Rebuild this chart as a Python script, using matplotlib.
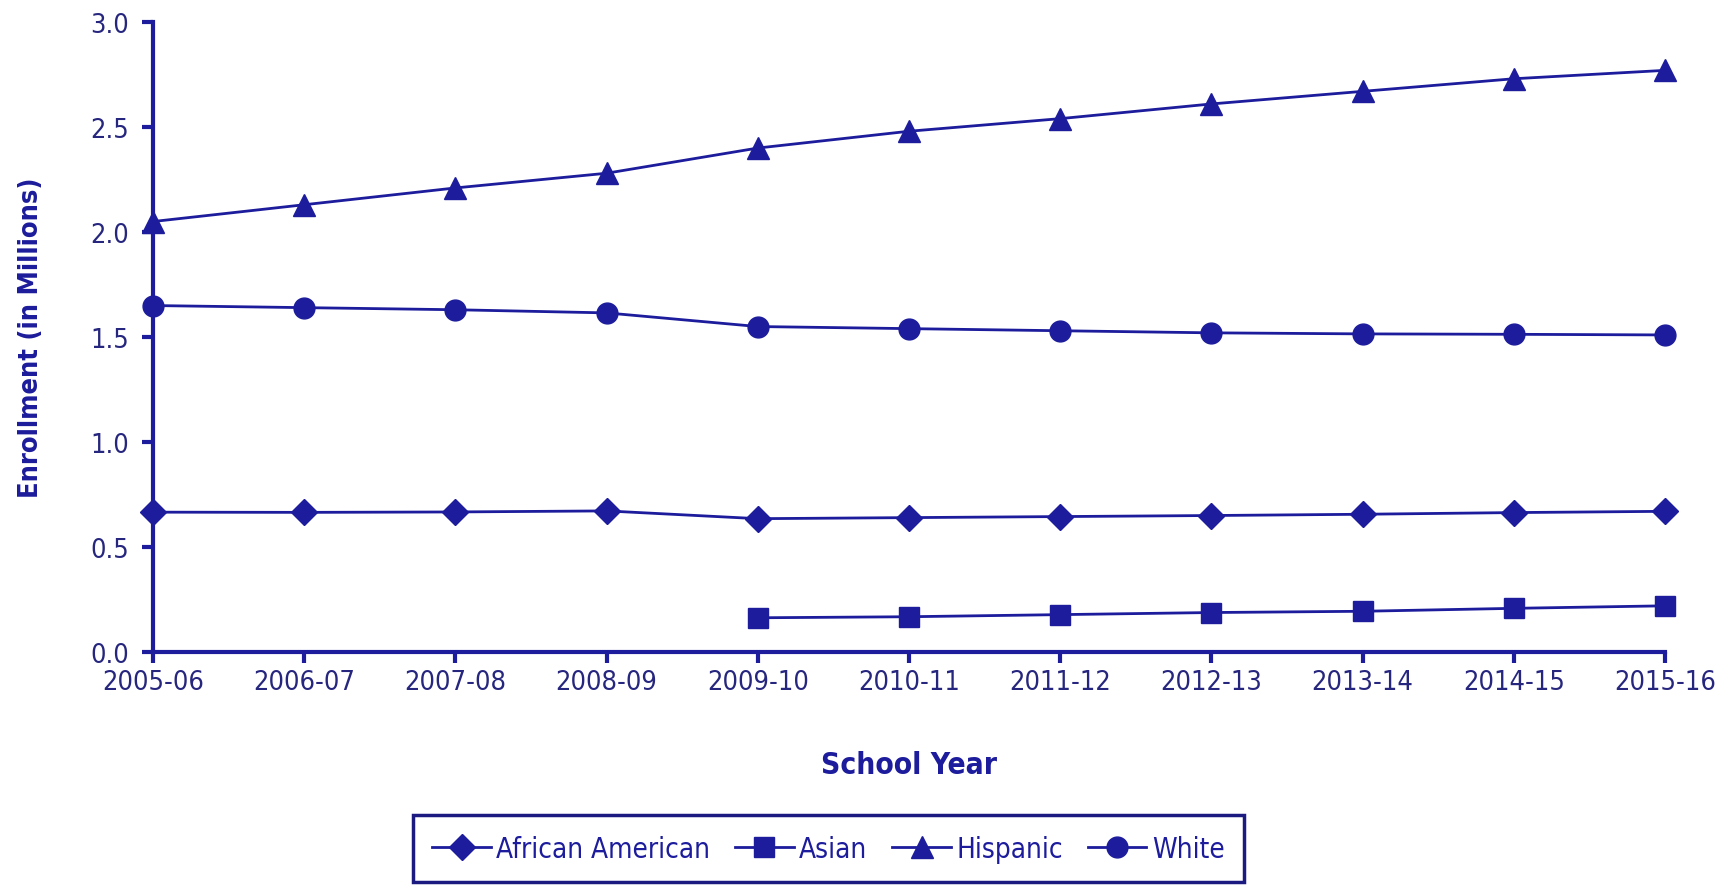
import matplotlib
matplotlib.use('Agg')
import matplotlib.pyplot as plt
from matplotlib import font_manager
import numpy as np

# Data (millions)
years = ['2005-06', '2006-07', '2007-08', '2008-09', '2009-10', '2010-11',
         '2011-12', '2012-13', '2013-14', '2014-15', '2015-16']
african_american = [0.666, 0.665, 0.667, 0.672, 0.635, 0.640, 0.645, 0.650, 0.656, 0.664, 0.670]
asian = [None, None, None, None, 0.163, 0.168, 0.178, 0.188, 0.194, 0.208, 0.220]
hispanic = [2.05, 2.13, 2.21, 2.28, 2.40, 2.48, 2.54, 2.61, 2.67, 2.73, 2.77]
white = [1.65, 1.64, 1.63, 1.615, 1.55, 1.54, 1.53, 1.52, 1.515, 1.513, 1.51]


# procurando uma fonte estreita (narrow/condensed) instalada
def achar_fonte(negrito=False):
    candidatos = []
    for f in font_manager.fontManager.ttflist:
        nome = f.fname.lower()
        if ('narrow' in nome or 'condensed' in nome) and 'oblique' not in nome and 'italic' not in nome:
            eh_bold = 'bold' in nome
            if eh_bold == negrito:
                candidatos.append(f.fname)
    candidatos.sort(key=lambda n: (0 if 'liberation' in n.lower() else 1 if 'dejavusans' in n.lower() else 2, n))
    if candidatos:
        return font_manager.FontProperties(fname=candidatos[0])
    return font_manager.FontProperties(family='Liberation Sans', weight='bold' if negrito else 'normal')


fp_reg = achar_fonte(False)
fp_bold = achar_fonte(True)

cor = '#1c1c9c'
cor_texto = '#26267e'

fig = plt.figure(figsize=(17.26, 8.87), dpi=100)
ax = fig.add_axes([0.0886, 0.2638, 0.876, 0.7102])

x = np.arange(len(years))
asian_arr = np.array([np.nan if v is None else v for v in asian])

series = [
    ('African American', african_american, 'D', 13),
    ('Asian', asian_arr, 's', 14),
    ('Hispanic', hispanic, '^', 16),
    ('White', white, 'o', 15),
]
for nome, valores, marcador, tam in series:
    ax.plot(x, valores, color=cor, linewidth=2, marker=marcador, markersize=tam,
            markerfacecolor=cor, markeredgecolor=cor, label=nome, clip_on=False, zorder=3)

ax.set_xlim(0, 10)
ax.set_ylim(0, 3.0)
yt = np.arange(0, 3.01, 0.5)
ax.set_yticks(yt)
ax.set_yticklabels([f'{v:.1f}' for v in yt])
ax.set_xticks(x)
ax.set_xticklabels(years)

for lado in ['top', 'right']:
    ax.spines[lado].set_visible(False)
for lado in ['left', 'bottom']:
    ax.spines[lado].set_color(cor)
    ax.spines[lado].set_linewidth(3)

ax.tick_params(axis='both', direction='out', length=8, width=3, color=cor,
               labelcolor=cor_texto)
ax.tick_params(axis='x', pad=4)
ax.tick_params(axis='y', pad=9)
for lbl in ax.get_xticklabels() + ax.get_yticklabels():
    lbl.set_fontproperties(fp_reg)
    lbl.set_fontsize(19.5)

ax.set_xlabel('School Year', fontproperties=fp_bold, fontsize=21.5, color=cor, labelpad=40)
ax.set_ylabel('Enrollment (in Millions)', fontproperties=fp_bold, fontsize=19.5, color=cor)
ax.yaxis.set_label_coords(-0.072, 0.5)

prop_leg = fp_reg.copy()
prop_leg.set_size(20)
leg = fig.legend(loc='center', bbox_to_anchor=(0.48, 0.042), ncol=4, frameon=True,
                 fancybox=False, framealpha=1, edgecolor='#1a1a80', handlelength=2.1,
                 handletextpad=0.2, columnspacing=0.9, borderpad=0.7, borderaxespad=0,
                 prop=prop_leg)
leg.get_frame().set_linewidth(2.5)
for t in leg.get_texts():
    t.set_color(cor)

fig.savefig('out.png', dpi=100)
